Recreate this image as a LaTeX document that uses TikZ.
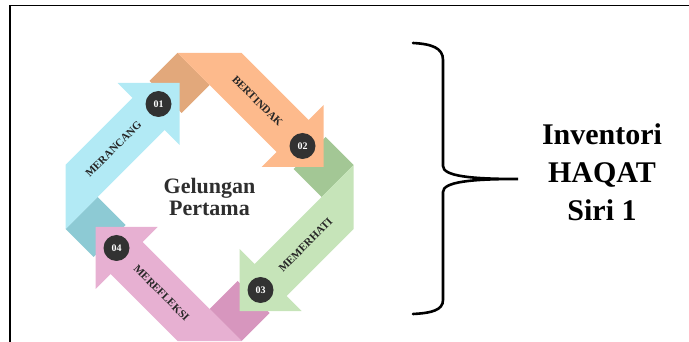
\documentclass[tikz,border=0pt]{standalone}
\usepackage{fontspec}
\setmainfont{Liberation Serif}

\definecolor{arrowcyan}{RGB}{178,234,245}
\definecolor{foldcyan}{RGB}{141,202,212}
\definecolor{arroworange}{RGB}{253,186,140}
\definecolor{foldorange}{RGB}{226,168,123}
\definecolor{arrowgreen}{RGB}{198,228,185}
\definecolor{foldgreen}{RGB}{163,199,149}
\definecolor{arrowpink}{RGB}{231,176,210}
\definecolor{foldpink}{RGB}{215,150,190}
\definecolor{numdark}{RGB}{50,50,50}

\begin{document}
\begin{tikzpicture}[x=1pt,y=-1pt,
	steplabel/.style={font=\fontsize{11}{11}\selectfont\bfseries,text=black!85,inner sep=0pt},
	stepnum/.style={circle,fill=numdark,minimum size=26pt,inner sep=0pt,text=white,font=\fontsize{10}{10}\selectfont\bfseries},
	loopname/.style={align=center,text=black!82,font=\fontsize{22}{22}\selectfont\bfseries},
	bigtext/.style={align=center,font=\fontsize{30}{38}\selectfont\bfseries},
	brace/.style={line width=2.6pt,line cap=round}]
	\useasboundingbox (0,0) rectangle (689,342);
	
	% frame
	\draw[line width=1.8pt] (10,342) -- (10,5.5) -- (689,5.5);
	
	\coordinate (c) at (209.5,197);
	
	% folds under the arrow heads
	\foreach \ang/\c in {0/cyan,-90/orange,-180/green,-270/pink}
	\fill[fold\c,shift={(c)},rotate=\ang] (-144,32) -- (-112,0) -- (-84,28) -- (-116,60) -- cycle;
	
	% arrows
	\foreach \ang/\c/\txt/\num/\rot in {0/cyan/MERANCANG/01/45,-90/orange/BERTINDAK/02/-45,-180/green/MEMERHATI/03/45,-270/pink/MEREFLEKSI/04/-45}
	{
		\begin{scope}[shift={(c)},rotate=\ang]
			\fill[arrow\c] (-144,-32) -- (-77,-99) -- (-92,-114) -- (-30,-114) -- (-30,-52) -- (-45,-67) -- (-144,32) -- cycle;
			\node[steplabel,rotate=\rot] (lab\num) at (-96,-48) {\txt};
			\node[stepnum] (num\num) at (-51,-93) {\num};
		\end{scope}
	}
	
	\node[loopname] (loop) at (c) {Gelungan\\Pertama};
	
	% brace
	\coordinate (tip) at (518,179);
	\draw[brace] (413,43) .. controls (432,44) and (443,48) .. (443,60) -- (443,166)
		.. controls (443,176) and (470,179) .. (tip)
		.. controls (470,179) and (443,182) .. (443,192) -- (443,300)
		.. controls (443,310) and (432,313) .. (413,314);
	
	\node[bigtext] (haqat) at (602,172) {Inventori\\HAQAT\\Siri 1};
\end{tikzpicture}
\end{document}
